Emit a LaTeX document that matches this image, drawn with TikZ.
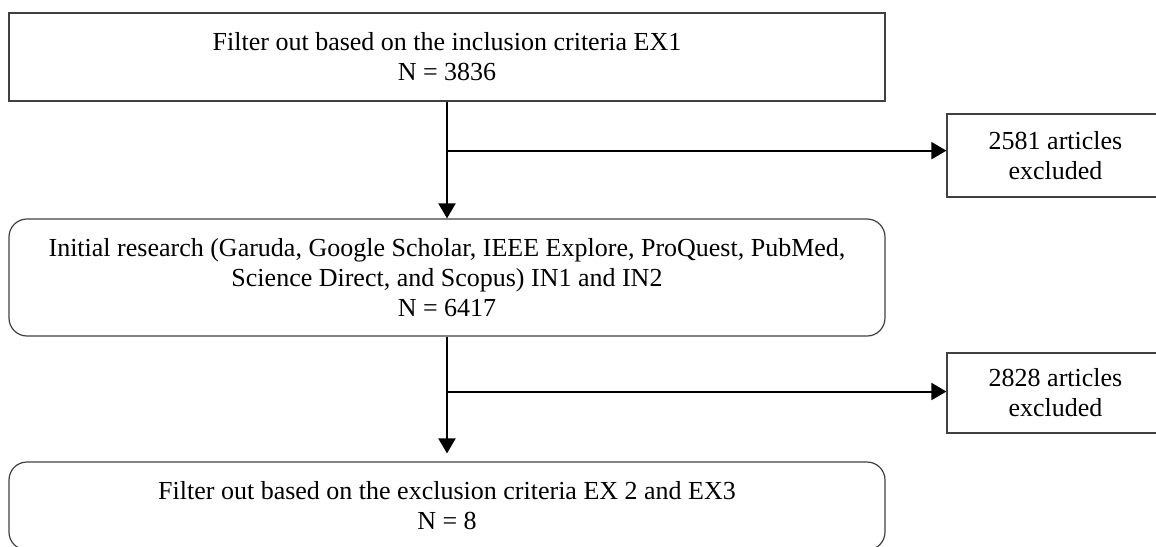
\documentclass[tikz,border=0pt]{standalone}
\usepackage{fontspec}
\setmainfont{Liberation Serif}
\usetikzlibrary{arrows.meta}

\tikzset{
    stage/.style={draw=black!75, line width=1.2pt, minimum width=876pt,
        align=center, inner sep=0pt, font=\fontsize{26}{30}\selectfont},
    dropped/.style={draw=black!75, line width=1.2pt, minimum width=217pt,
        align=center, inner sep=0pt, font=\fontsize{26}{30}\selectfont},
    flow/.style={line width=2pt, -{Triangle[width=17pt, length=15pt]}},
}

\begin{document}
\begin{tikzpicture}[x=1pt, y=-1pt]
        \useasboundingbox (0,0) rectangle (1156,546);
        \node[stage, minimum height=88pt] (inclusion) at (447,57)
            {Filter out based on the inclusion criteria EX1\\N = 3836};
        \node[stage, rounded corners=18pt, minimum height=117pt] (search) at (447,277.5)
            {Initial research (Garuda, Google Scholar, IEEE Explore, ProQuest, PubMed,\\
             Science Direct, and Scopus) IN1 and IN2\\N = 6417};
        \node[stage, rounded corners=18pt, minimum height=88pt] (exclusion) at (447,506)
            {Filter out based on the exclusion criteria EX 2 and EX3\\N = 8};
        \node[dropped, minimum height=83pt] (drop1) at (1055.5,155.5)
            {2581 articles\\excluded};
        \node[dropped, minimum height=80pt] (drop2) at (1055.5,393)
            {2828 articles\\excluded};
        % branch points on the two downward arrows
        \path (inclusion.south) -- (search.north) coordinate[pos=0.42] (fork1);
        \path (search.south) -- (exclusion.north) coordinate[pos=0.44] (fork2);
        \draw[flow] (inclusion) -- (search);
        \draw[flow, shorten >=8pt] (search) -- (exclusion);
        \draw[flow] (fork1) -- (fork1 -| drop1.west);
        \draw[flow] (fork2) -- (fork2 -| drop2.west);
    \end{tikzpicture}
\end{document}
